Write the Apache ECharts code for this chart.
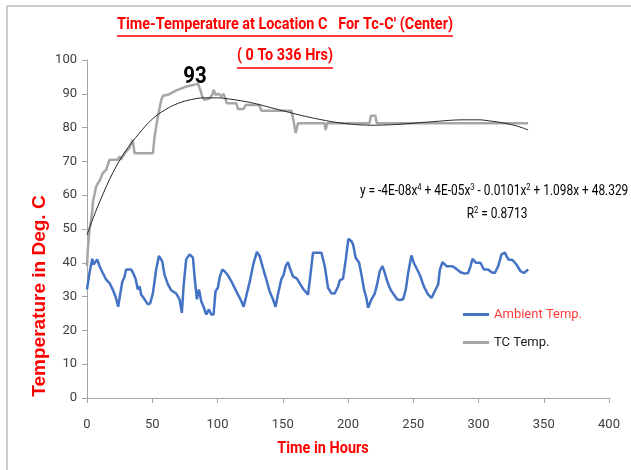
<!DOCTYPE html>
<html>
<head>
<meta charset="utf-8">
<script src="https://cdn.jsdelivr.net/npm/echarts@6/dist/echarts.min.js"></script>
<style>
html,body{margin:0;padding:0;background:#fff;}
#chart{width:631px;height:470px;}
</style>
</head>
<body>
<div id="chart"></div>
<script>
// ambient temperature (hours / deg C)
var ambientHours = [0,1.9,4,5,6.5,7.8,9.6,12.1,14.7,17.3,19.8,21.9,23.9,25.4,27,28.8,30,33.9,35.1,37.2,39,40.3,41.5,44.1,46.6,48.4,50.5,53,55.1,56.4,57.6,59.4,62,64.5,68.4,70.9,72.7,74,76,78.6,81.2,82.4,84.2,85.8,87.5,89.3,91.4,93.4,95.2,97,98.5,100.3,101.6,103.6,105.4,108,110.5,113.1,115.7,118.2,120,122,125.1,127.7,130.2,132.3,134.8,137.4,139.9,142.5,144.5,146.3,148.9,150.7,152.2,154,155.8,157.8,160.9,163.5,166,169.4,172,173.2,179.6,182.2,184.7,187.3,189.8,192.4,193.7,196.2,198.3,200.3,202.6,203.9,205.9,208.5,210.3,212.3,214.1,215.4,218,220.5,222.3,224.3,226.4,228.2,230,232.5,235.1,237.6,239.7,242.2,244.3,246.1,248.6,250.4,253,255.5,258.1,261.4,264,266.5,269.1,270.4,272.4,275.5,280.1,283.1,286.2,289.5,292.1,293.9,295.4,298,301.5,304.1,307.4,310,312.5,315.1,317.6,320.2,322.8,326.1,329.1,332.2,334.8,338.1];
var ambientTemp = [32.1,37,41.2,39.5,40,41,39,37,35,34,32,30,27,30.6,34.3,35.9,38,38,37.2,35.3,32.1,33,30.6,29.2,27.7,28,31,38,42,42.5,40.5,36.5,33.6,31.9,30.9,29.2,25.2,33,41,42.5,41.5,36,29.2,32.1,28.7,27,24.7,26.2,24.7,24.7,31.6,32.6,35.6,38,37.5,36.3,34.6,32.6,30.6,28.7,27,30.1,35.1,40,43.2,42,38.5,35.1,31.6,29.2,27,30.6,35.1,36.5,39,40.2,38,36,35.3,33.6,32.1,30.6,39,43,43,39,32.6,31,30.9,33,34.8,35.3,41,47.1,46.4,45.4,41.5,40,36.5,32.1,29.6,26.7,29.2,30.9,33.6,37.5,39,37,34.6,32.1,30.6,29.2,29,29.2,32.1,37,42.2,40,38,36,33,30.6,29.6,31.6,33.6,38,40.2,39,39,38.2,37.2,36.8,37,39,41.2,40,40,38,38,37.2,37,39,42.5,43,41,40.8,39.5,37.5,37,38];

// thermocouple temperature at centre
var tcHours = [0,0.6,2,4,4.5,6,7,8.3,10,12,14.7,17.3,23.6,25,26,28.8,30,32.6,35,36.4,50.5,51.8,54.3,56.9,58.2,62,63.3,68.4,71,74.8,78.6,82.4,85,86.8,88.3,90,91.4,94,96,97,98.5,101,102.9,104.7,106,107.2,114.4,115.7,120,121.6,132,133.6,156.6,157.9,159.9,161.7,182,182.9,184,216.5,217.5,221,222,338];
var tcTemp = [39,44,50,55,58,58.5,62.5,63.5,64.5,66.5,67.5,70.5,70.5,71.5,70.5,72.4,72,74,76.4,72.4,72.4,77.4,83.3,88.2,89.4,89.7,90.2,91,91.4,92,92.4,92.7,93,91.2,89.2,88.2,88.4,88.7,89.7,91.2,89.7,90,89.2,90,89.7,87.2,87.2,85.5,85.5,86.7,86.7,85,85,82.8,78.4,81.3,81.3,79.3,81.3,81.3,83.5,83.5,81.3,81.3];

// poly trendline
var trendHours = [0,5,10,20,30,40,50,60,70,80,90,100,110,120,130,140,150,160,170,180,190,200,210,220,230,240,250,260,270,280,290,300,310,320,330,338];
var trendTemp = [48.3,53.5,58.3,66.8,73.3,78.3,82.5,85.3,87.2,88.3,88.8,88.8,88.4,87.8,87,86,85,84,83.1,82.3,81.6,81.1,80.8,80.7,80.8,81,81.3,81.6,81.9,82.2,82.3,82.3,81.9,81.3,80.4,79.3];

var xTicks = [0,50,100,150,200,250,300,350,400];
var yTicks = [0,10,20,30,40,50,60,70,80,90,100];

function pairs(xs, ys){
    var out = [];
    for (var i = 0; i < xs.length; i++) out.push([xs[i], ys[i]]);
    return out;
}

var narrow = "Roboto,'Liberation Sans',sans-serif";

// measure text so underlines follow the title
var ctx = document.createElement('canvas').getContext('2d');
function textWidth(txt, font){
    ctx.font = font;
    return ctx.measureText(txt).width;
}

var title1 = "Time-Temperature at Location C   For Tc-C' (Center)";
var title2 = "( 0 To 336 Hrs)";
var titleFont = "bold 16px " + narrow;
var squeeze = 0.9;
var w1 = textWidth(title1, titleFont) * squeeze;
var w2 = textWidth(title2, titleFont) * squeeze;
var cx = 285;

var supRich = {
    t: { fontFamily: narrow, fontSize: 14, color: '#404040' },
    s: { fontFamily: narrow, fontSize: 9, color: '#404040', verticalAlign: 'top', padding: [0, 0, 6, 0] }
};

var myChart = echarts.init(document.getElementById('chart'));
var option = {
    animation: false,
    backgroundColor: '#fff',
    grid: { left: 87, right: 22, top: 60, bottom: 72 },
    legend: {
        orient: 'vertical',
        left: 458,
        top: 303,
        itemWidth: 26,
        itemHeight: 3,
        itemGap: 15,
        icon: 'rect',
        textStyle: { fontFamily: narrow, fontSize: 13 },
        data: [
            { name: 'Ambient Temp.', textStyle: { color: '#FF3B3B' } },
            { name: 'TC Temp.', textStyle: { color: '#222' } }
        ]
    },
    xAxis: {
        type: 'value', min: 0, max: 400, interval: 50,
        axisLine: { lineStyle: { color: '#A6A6A6' } },
        axisTick: { inside: false, length: 5, lineStyle: { color: '#A6A6A6' } },
        axisLabel: { color: '#404040', fontFamily: narrow, fontSize: 13, margin: 20,
            formatter: function(v){ return xTicks.indexOf(v) >= 0 ? String(v) : ''; } },
        splitLine: { show: false }
    },
    yAxis: {
        type: 'value', min: 0, max: 100, interval: 10,
        axisLine: { show: true, lineStyle: { color: '#A6A6A6' } },
        axisTick: { show: true, length: 5, lineStyle: { color: '#A6A6A6' } },
        axisLabel: { color: '#404040', fontFamily: narrow, fontSize: 13, margin: 10,
            formatter: function(v){ return yTicks.indexOf(v) >= 0 ? String(v) : ''; } },
        splitLine: { show: false }
    },
    series: [
        {
            name: 'Ambient Temp.', type: 'line', showSymbol: false,
            data: pairs(ambientHours, ambientTemp),
            lineStyle: { color: '#4472C4', width: 2.5 },
            itemStyle: { color: '#4472C4' }
        },
        {
            name: 'TC Temp.', type: 'line', showSymbol: false,
            data: pairs(tcHours, tcTemp),
            lineStyle: { color: '#A6A6A6', width: 2.5 },
            itemStyle: { color: '#A6A6A6' }
        },
        {
            name: 'Trend', type: 'line', showSymbol: false, smooth: 0.4,
            data: pairs(trendHours, trendTemp),
            lineStyle: { color: '#262626', width: 1 },
            itemStyle: { color: '#262626' }
        }
    ],
    graphic: [
        // chart frame (left + top edge visible)
        { type: 'rect', shape: { x: 7, y: 6, width: 700, height: 600 },
          style: { fill: 'none', stroke: '#9A9A9A', lineWidth: 1 }, silent: true },
        { type: 'text', x: cx, y: 25, scaleX: squeeze,
          style: { text: title1, x: 0, y: 0, font: titleFont, fill: '#FF0000',
            textAlign: 'center', textVerticalAlign: 'middle' } },
        { type: 'line', shape: { x1: cx - w1 / 2, y1: 36, x2: cx + w1 / 2, y2: 36 },
          style: { stroke: '#FF0000', lineWidth: 1.5 } },
        { type: 'text', x: cx, y: 56, scaleX: squeeze,
          style: { text: title2, x: 0, y: 0, font: titleFont, fill: '#FF0000',
            textAlign: 'center', textVerticalAlign: 'middle' } },
        { type: 'line', shape: { x1: cx - w2 / 2, y1: 68, x2: cx + w2 / 2, y2: 68 },
          style: { stroke: '#FF0000', lineWidth: 1.5 } },
        { type: 'text', x: 195, y: 77, scaleX: 0.85,
          style: { text: '93', x: 0, y: 0, font: 'bold 24px ' + narrow, fill: '#000',
            textAlign: 'center', textVerticalAlign: 'middle' } },
        { type: 'text', x: 40, y: 296, rotation: Math.PI / 2,
          style: { text: 'Temperature in Deg. C', x: 0, y: 0, font: "bold 19px 'Liberation Sans',Arial,sans-serif",
            fill: '#FF0000', textAlign: 'center', textVerticalAlign: 'middle' } },
        { type: 'text', x: 323, y: 449, scaleX: 0.85,
          style: { text: 'Time in Hours', x: 0, y: 0, font: 'bold 17px ' + narrow, fill: '#FF0000',
            textAlign: 'center', textVerticalAlign: 'middle' } },
        { type: 'text', x: 360, y: 191, scaleX: 0.85,
          style: {
            text: '{t|y = -4E-08x}{s|4}{t| + 4E-05x}{s|3}{t| - 0.0101x}{s|2}{t| + 1.098x + 48.329}',
            x: 0, y: 0, textVerticalAlign: 'middle', rich: supRich } },
        { type: 'text', x: 497, y: 214, scaleX: 0.85,
          style: {
            text: '{t|R}{s|2}{t| = 0.8713}',
            x: 0, y: 0, textAlign: 'center', textVerticalAlign: 'middle', rich: supRich } }
    ]
};
myChart.setOption(option);

window.onresize = function(){
    myChart.resize();
};
</script>
</body>
</html>
